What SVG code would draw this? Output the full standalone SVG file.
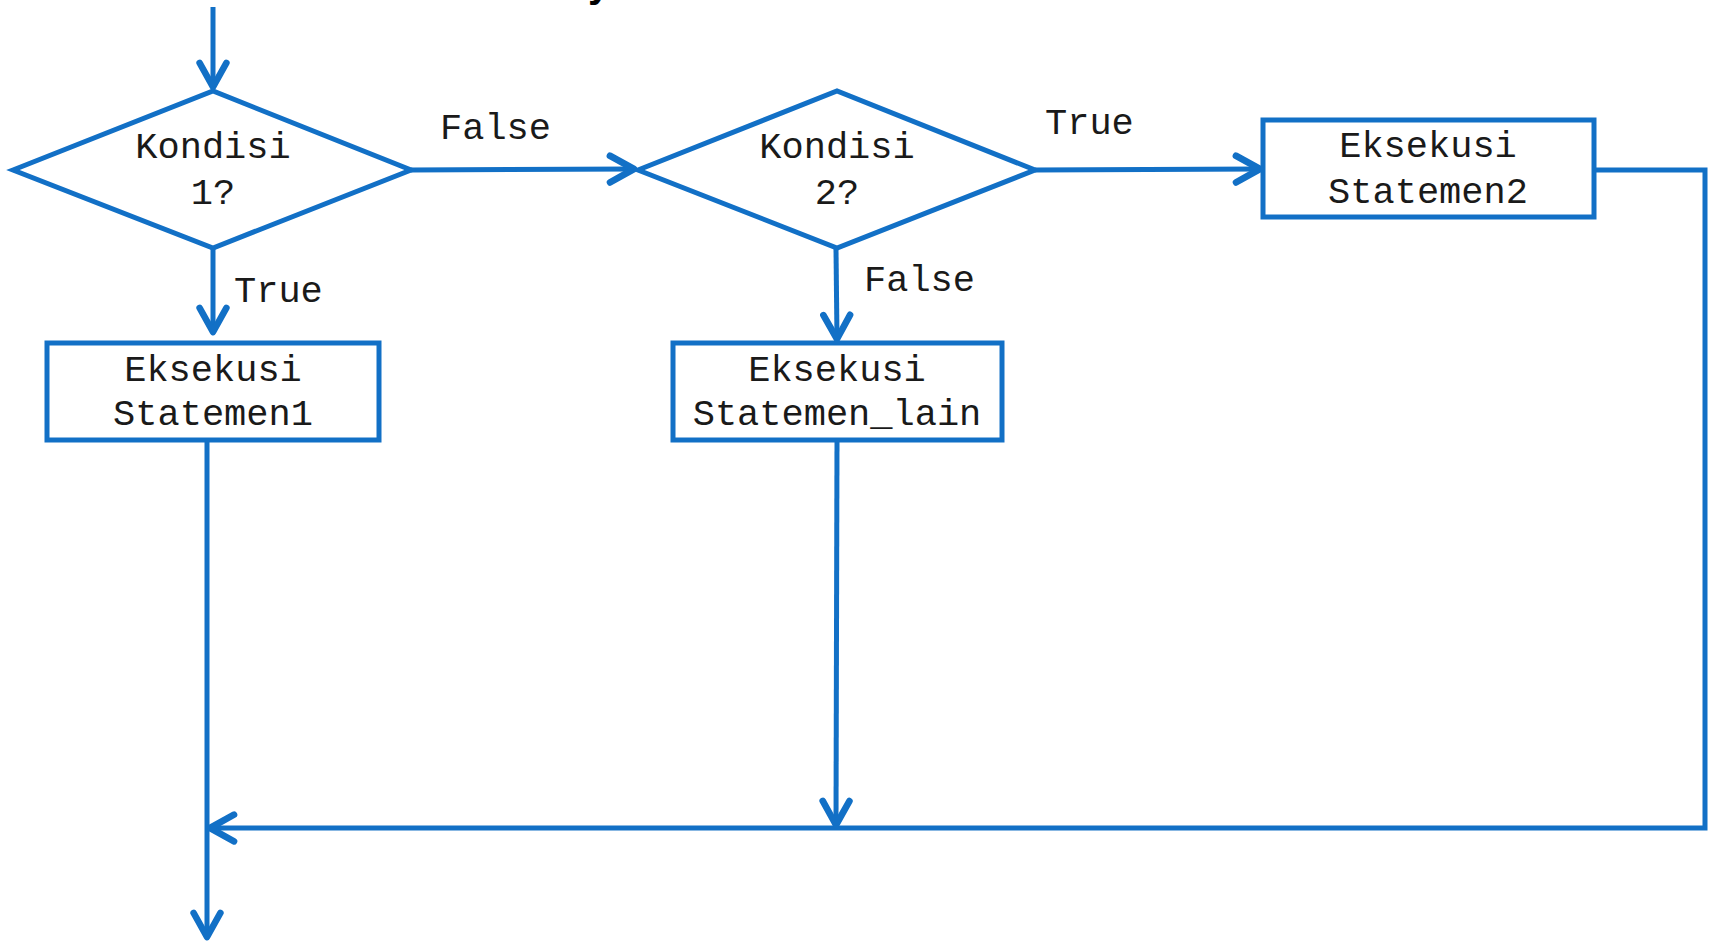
<svg xmlns="http://www.w3.org/2000/svg" width="1709" height="941" viewBox="0 0 1709 941">
  <defs>
    <style>
      .shape { fill: #ffffff; stroke: #1270C6; stroke-width: 5; stroke-linejoin: miter; }
      .conn { fill: none; stroke: #1270C6; stroke-width: 5; stroke-linejoin: miter; }
      .t { font-family: "Liberation Mono", "Courier New", monospace; font-size: 37px; fill: #1a1a1a; text-anchor: middle; }
      .lbl { font-family: "Liberation Mono", "Courier New", monospace; font-size: 37px; fill: #1a1a1a; }
      .head { font-family: "Liberation Sans", Arial, sans-serif; font-size: 40px; font-weight: bold; fill: #000000; }
    </style>
    <marker id="arrow" markerUnits="userSpaceOnUse" markerWidth="40" markerHeight="40" viewBox="-25 -15 30 30" refX="0" refY="0" orient="auto" overflow="visible">
      <path d="M-18,-10 L0,0 L-18,10" fill="none" stroke="#1270C6" stroke-width="5" stroke-linecap="round" stroke-linejoin="round"/>
    </marker>
  </defs>
  <rect width="1709" height="941" fill="#ffffff"/>

  <text class="head" x="588" y="-3">y</text>

  <g id="connectors">
    <path class="conn" d="M213,7 L213,87" marker-end="url(#arrow)"/>
    <path class="conn" d="M411,170 L634,169" marker-end="url(#arrow)"/>
    <path class="conn" d="M213,249 L213,332" marker-end="url(#arrow)"/>
    <path class="conn" d="M1035,170 L1260,169" marker-end="url(#arrow)"/>
    <path class="conn" d="M836,249 L837,339" marker-end="url(#arrow)"/>
    <path class="conn" d="M1594,170 L1705,170 L1705,828 L210,828" marker-end="url(#arrow)"/>
    <path class="conn" d="M837,440 L836,825" marker-end="url(#arrow)"/>
    <path class="conn" d="M207,440 L207,937" marker-end="url(#arrow)"/>
  </g>

  <g id="label-false-1"><text class="lbl" x="440" y="139">False</text></g>
  <g id="label-true-1"><text class="lbl" x="234" y="302">True</text></g>
  <g id="label-true-2"><text class="lbl" x="1045" y="134">True</text></g>
  <g id="label-false-2"><text class="lbl" x="864" y="291">False</text></g>

  <g id="kondisi1">
    <polygon class="shape" points="13,170 213,91 411,170 213,248"/>
    <text class="t" x="213" y="158">Kondisi</text>
    <text class="t" x="213" y="204">1?</text>
  </g>

  <g id="kondisi2">
    <polygon class="shape" points="638,170 837,91 1035,170 837,248"/>
    <text class="t" x="837" y="158">Kondisi</text>
    <text class="t" x="837" y="204">2?</text>
  </g>

  <g id="statemen1">
    <rect class="shape" x="47" y="343" width="332" height="97"/>
    <text class="t" x="213" y="381">Eksekusi</text>
    <text class="t" x="213" y="425">Statemen1</text>
  </g>

  <g id="statemen-lain">
    <rect class="shape" x="673" y="343" width="329" height="97"/>
    <text class="t" x="837" y="381">Eksekusi</text>
    <text class="t" x="837" y="425">Statemen_lain</text>
  </g>

  <g id="statemen2">
    <rect class="shape" x="1263" y="120" width="331" height="97"/>
    <text class="t" x="1428" y="157">Eksekusi</text>
    <text class="t" x="1428" y="203">Statemen2</text>
  </g>
</svg>
